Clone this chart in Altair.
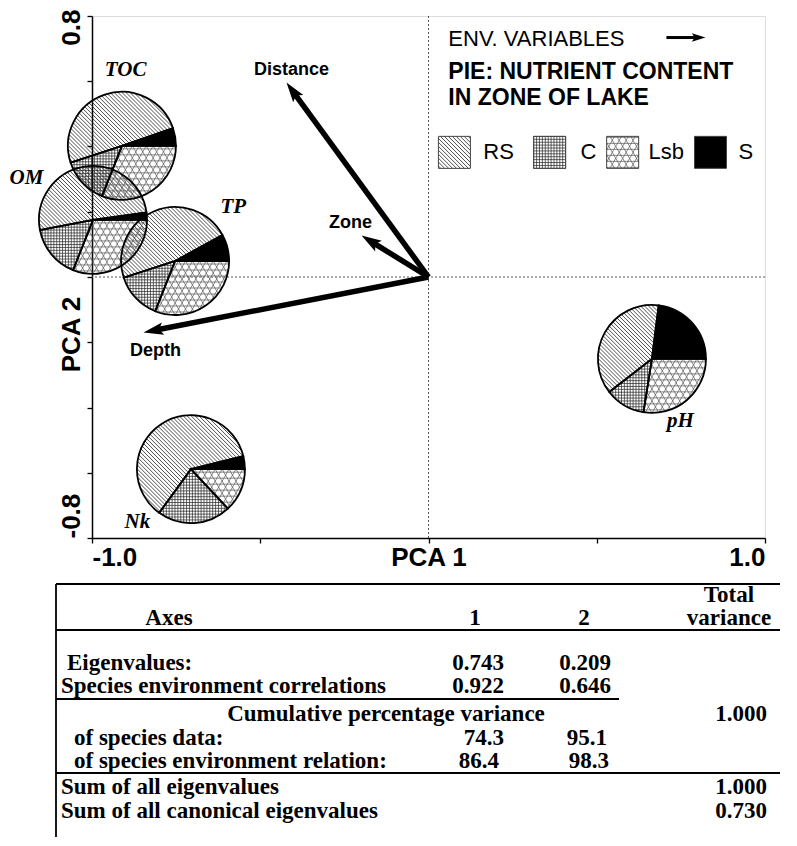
import math
import pandas as pd
import altair as alt

# ---------------- data ----------------
pie_names = ["TOC", "OM", "TP", "Nk", "pH"]
pie_x = [-0.911, -0.997, -0.753, -0.706, 0.664]
pie_y = [0.402, 0.175, 0.049, -0.589, -0.251]
share_S = [5.3, 2.2, 8.0, 3.9, 23.0]
share_RS = [49.7, 50.8, 47.0, 61.1, 37.5]
share_C = [14.0, 16.0, 14.0, 22.0, 12.0]
share_Lsb = [31.0, 31.0, 31.0, 13.0, 27.5]
pie_label_x = [-0.900, -1.195, -0.580, -0.865, 0.749]
pie_label_y = [0.633, 0.302, 0.216, -0.752, -0.440]

env_names = ["Distance", "Zone", "Depth"]
env_x = [-0.422, -0.199, -0.847]
env_y = [0.596, 0.127, -0.170]
env_label_x = [-0.407, -0.232, -0.811]
env_label_y = [0.633, 0.167, -0.228]

categories = ["RS", "C", "Lsb", "S"]
legend_patch_x = [0.077, 0.360, 0.577, 0.838]
legend_text_x = [0.163, 0.452, 0.654, 0.921]
legend_y = 0.382
legend_lines = ["ENV. VARIABLES", "PIE: NUTRIENT CONTENT", "IN ZONE OF LAKE"]
legend_line_y = [0.728, 0.627, 0.550]
legend_line_bold = [False, True, True]
legend_line_x = 0.059
legend_arrow_x = [0.707, 0.823]
legend_arrow_y = 0.734

x_ticks = [-1.0, -0.5, 0.0, 0.5, 1.0]
y_ticks = [-0.8, -0.6, -0.4, -0.2, 0.0, 0.2, 0.4, 0.6, 0.8]

# summary table
eigenvalues = [0.743, 0.209]
species_env_corr = [0.922, 0.646]
cum_species = [74.3, 95.1]
cum_relation = [86.4, 98.3]
total_variance = 1.000
sum_all_eigen = 1.000
sum_canonical_eigen = 0.730

# ---------------- geometry helpers ----------------
W, H = 673, 522
SX, SY = W / 2.0, H / 1.6     # pixels per data unit
R = 54.0                      # pie radius in px

SANS = "Liberation Sans"
SERIF = "Liberation Serif"

PATTERNS = {
    "RS": [(-45, 2.8)],
    "C": [(0, 2.9), (90, 2.9)],
    "Lsb": [(0, 6.0), (60, 6.0), (120, 6.0)],
}


def clip_line(p0, d, planes, radius):
    lo, hi = -1e9, 1e9
    if radius is not None:
        b = p0[0] * d[0] + p0[1] * d[1]
        c = p0[0] ** 2 + p0[1] ** 2 - radius ** 2
        disc = b * b - c
        if disc <= 0:
            return None
        s = math.sqrt(disc)
        lo, hi = -b - s, -b + s
    for nx, ny, k in planes:
        nd = nx * d[0] + ny * d[1]
        npv = nx * p0[0] + ny * p0[1]
        if abs(nd) < 1e-12:
            if npv > k:
                return None
            continue
        t = (k - npv) / nd
        if nd > 0:
            hi = min(hi, t)
        else:
            lo = max(lo, t)
    if hi - lo < 0.4:
        return None
    return lo, hi


def hatch(cx, cy, planes, radius, extent, cat):
    rows = []
    for ang, sp in PATTERNS.get(cat, []):
        a = math.radians(ang)
        d = (math.cos(a), math.sin(a))
        n = (-math.sin(a), math.cos(a))
        k = int(math.ceil(extent / sp)) + 1
        for i in range(-k, k + 1):
            o = i * sp + sp / 2
            p0 = (n[0] * o, n[1] * o)
            r = clip_line(p0, d, planes, radius)
            if r is None:
                continue
            t0, t1 = r
            rows.append(dict(
                x=cx + (p0[0] + t0 * d[0]) / SX, y=cy + (p0[1] + t0 * d[1]) / SY,
                x2=cx + (p0[0] + t1 * d[0]) / SX, y2=cy + (p0[1] + t1 * d[1]) / SY,
                cat=cat))
    return rows


def wedge_planes(a1, a2):
    return [(math.sin(a1), -math.cos(a1), 0.0), (-math.sin(a2), math.cos(a2), 0.0)]


seg_rows, arc_rows = [], []
for i, name in enumerate(pie_names):
    shares = {"S": share_S[i], "RS": share_RS[i], "C": share_C[i], "Lsb": share_Lsb[i]}
    total = sum(shares.values())
    a = 0.0
    for cat in ["S", "RS", "C", "Lsb"]:
        span = 2 * math.pi * shares[cat] / total
        a1, a2 = a, a + span
        a = a2
        arc_rows.append(dict(pie=name, cat=cat, cx=pie_x[i], cy=pie_y[i],
                             t0=math.pi / 2 - a2 + 2 * math.pi,
                             t1=math.pi / 2 - a1 + 2 * math.pi))
        if cat == "S":
            continue
        parts = 1 if span <= math.pi else 2
        for j in range(parts):
            b1 = a1 + span * j / parts
            b2 = a1 + span * (j + 1) / parts
            seg_rows += hatch(pie_x[i], pie_y[i], wedge_planes(b1, b2), R, R, cat)

HS = 16.0
sq_planes = [(1, 0, HS), (-1, 0, HS), (0, 1, HS), (0, -1, HS)]
for cat, lx in zip(categories, legend_patch_x):
    seg_rows += hatch(lx, legend_y, sq_planes, None, HS * 1.5, cat)

seg_df = pd.DataFrame(seg_rows)
arc_df = pd.DataFrame(arc_rows)

HEAD = "M0,-1L0.55,0.75L0,0.4L-0.55,0.75Z"
HEAD_SIZE = 520
HEAD_OFF = math.sqrt(HEAD_SIZE) / 2
env_rows = []
for nm, ex, ey, lx, ly in zip(env_names, env_x, env_y, env_label_x, env_label_y):
    dx, dy = ex * SX, ey * SY
    L = math.hypot(dx, dy)
    ux, uy = dx / L, dy / L
    env_rows.append(dict(name=nm, x0=0.0, y0=0.0,
                         hx=ex - HEAD_OFF * ux / SX, hy=ey - HEAD_OFF * uy / SY,
                         ang=math.degrees(math.atan2(dx, dy)) % 360, lx=lx, ly=ly))
env_df = pd.DataFrame(env_rows)

LEG_HEAD_SIZE = 240
leg_off = math.sqrt(LEG_HEAD_SIZE) / 2
leg_arrow_df = pd.DataFrame([dict(x0=legend_arrow_x[0], y0=legend_arrow_y,
                                  hx=legend_arrow_x[1] - leg_off / SX, hy=legend_arrow_y,
                                  ang=90.0)])

pie_lab_df = pd.DataFrame(dict(name=pie_names, x=pie_label_x, y=pie_label_y))
leg_patch_df = pd.DataFrame(dict(cat=categories, x=legend_patch_x, y=[legend_y] * 4))
leg_text_df = pd.DataFrame(dict(cat=categories, x=legend_text_x, y=[legend_y] * 4))
leg_lines_df = pd.DataFrame(dict(t=legend_lines, y=legend_line_y, x=[legend_line_x] * 3,
                                 bold=legend_line_bold))
zero_df = pd.DataFrame(dict(v=[0.0]))

# ---------------- scales / axes ----------------
xs = alt.Scale(domain=[-1, 1], nice=False, zero=False)
ys = alt.Scale(domain=[-0.8, 0.8], nice=False, zero=False)

x_axis = alt.Axis(
    values=x_ticks, grid=False,
    labelExpr="datum.value <= -0.99 ? '-1.0' : (datum.value >= 0.99 ? '1.0' : (abs(datum.value) < 0.01 ? 'PCA 1' : ''))",
    labelFlush=True, labelOverlap=False, labelFont=SANS, labelFontWeight="bold",
    labelFontSize=26, labelColor="black", labelPadding=1,
    tickSize=5, tickColor="black", tickWidth=1.3, domainColor="black", domainWidth=1.5,
)
y_axis = alt.Axis(
    values=y_ticks, grid=False, title="PCA 2",
    labelExpr="datum.value >= 0.79 ? '0.8' : (datum.value <= -0.79 ? '-0.8' : '')",
    labelAngle=270,
    labelAlign={"condition": {"test": "datum.value > 0", "value": "right"}, "value": "left"},
    labelOffset={"condition": {"test": "datum.value > 0", "value": -7}, "value": 0},
    labelBaseline="bottom", labelOverlap=False, labelFlush=False,
    labelFont=SANS, labelFontWeight="bold", labelFontSize=26, labelColor="black", labelPadding=3,
    tickSize=5, tickColor="black", tickWidth=1.3, domainColor="black", domainWidth=1.5,
    titleAngle=270, titleX=-8, titleY=318, titleBaseline="bottom", titleAlign="center",
    titleFont=SANS, titleFontWeight="bold", titleFontSize=26, titleColor="black",
)


def X(f):
    return alt.X(f"{f}:Q", scale=xs, axis=x_axis, title=None)


def Y(f):
    return alt.Y(f"{f}:Q", scale=ys, axis=y_axis)


fill_scale = alt.Scale(domain=["RS", "C", "Lsb", "S"],
                       range=["transparent", "transparent", "transparent", "black"])

# ---------------- layers ----------------
vline = alt.Chart(zero_df).mark_rule(color="#555", strokeDash=[2, 2], strokeWidth=1).encode(x=X("v"))
hline = alt.Chart(zero_df).mark_rule(color="#555", strokeDash=[2, 2], strokeWidth=1).encode(y=Y("v"))

seg_base = alt.Chart(seg_df).encode(x=X("x"), y=Y("y"), x2="x2", y2="y2")
hatch_rs = seg_base.transform_filter("datum.cat == 'RS'").mark_rule(color="#222", strokeWidth=0.8)
hatch_c = seg_base.transform_filter("datum.cat == 'C'").mark_rule(color="#222", strokeWidth=0.7)
hatch_l = seg_base.transform_filter("datum.cat == 'Lsb'").mark_rule(color="#555", strokeWidth=0.7)

arcs = alt.Chart(arc_df).mark_arc(radius=R, stroke="black", strokeWidth=1.8).encode(
    x=X("cx"), y=Y("cy"),
    theta=alt.Theta("t0:Q", scale=None), theta2=alt.Theta2("t1:Q"),
    fill=alt.Fill("cat:N", scale=fill_scale, legend=None),
)

env_rule = alt.Chart(env_df).mark_rule(color="black", strokeWidth=5.5).encode(
    x=X("x0"), y=Y("y0"), x2="hx", y2="hy")
env_head = alt.Chart(env_df).mark_point(shape=HEAD, size=HEAD_SIZE, filled=True, color="black",
                                        opacity=1).encode(
    x=X("hx"), y=Y("hy"), angle=alt.Angle("ang:Q", scale=None))
env_text = alt.Chart(env_df).mark_text(font=SANS, fontWeight="bold", fontSize=18,
                                       color="black").encode(x=X("lx"), y=Y("ly"), text="name:N")

pie_text = alt.Chart(pie_lab_df).mark_text(font=SERIF, fontWeight="bold", fontStyle="italic",
                                           fontSize=21, color="black").encode(
    x=X("x"), y=Y("y"), text="name:N")

leg_patch = alt.Chart(leg_patch_df).mark_point(shape="square", size=1024, filled=True,
                                               stroke="#444", strokeWidth=1, opacity=1).encode(
    x=X("x"), y=Y("y"), fill=alt.Fill("cat:N", scale=fill_scale, legend=None))
leg_text = alt.Chart(leg_text_df).mark_text(font=SANS, fontSize=22, align="left",
                                            color="black").encode(x=X("x"), y=Y("y"), text="cat:N")
leg_l1 = alt.Chart(leg_lines_df).transform_filter("!datum.bold").mark_text(
    font=SANS, fontSize=22, align="left", color="black").encode(x=X("x"), y=Y("y"), text="t:N")
leg_l2 = alt.Chart(leg_lines_df).transform_filter("datum.bold").mark_text(
    font=SANS, fontSize=23, fontWeight="bold", align="left", color="black").encode(
    x=X("x"), y=Y("y"), text="t:N")
leg_arrow = alt.Chart(leg_arrow_df).mark_rule(color="black", strokeWidth=3).encode(
    x=X("x0"), y=Y("y0"), x2="hx", y2="hy")
leg_head = alt.Chart(leg_arrow_df).mark_point(shape=HEAD, size=LEG_HEAD_SIZE, filled=True,
                                              color="black", opacity=1).encode(
    x=X("hx"), y=Y("hy"), angle=alt.Angle("ang:Q", scale=None))

scatter = alt.layer(
    vline, hline, hatch_rs, hatch_c, hatch_l, arcs,
    env_rule, env_head, env_text, pie_text,
    leg_patch, leg_text, leg_l1, leg_l2, leg_arrow, leg_head,
).properties(width=W, height=H)

# ---------------- table ----------------
TW, TH = 688, 253
C1, C2, CT = 448, 555, 711
t_rows = [
    ("Total", 673, 11, "center"), ("variance", 673, 34, "center"),
    ("Axes", 113, 34, "center"), ("1", 419, 34, "center"), ("2", 528, 34, "center"),
    ("Eigenvalues:", 11, 79, "left"),
    (f"{eigenvalues[0]:.3f}", C1, 79, "right"), (f"{eigenvalues[1]:.3f}", C2, 79, "right"),
    ("Species environment correlations", 5, 102, "left"),
    (f"{species_env_corr[0]:.3f}", C1, 102, "right"), (f"{species_env_corr[1]:.3f}", C2, 102, "right"),
    ("Cumulative percentage variance", 330, 130, "center"),
    (f"{total_variance:.3f}", CT, 130, "right"),
    ("of species data:", 18, 154, "left"),
    (f"{cum_species[0]:.1f}", C1, 154, "right"), (f"{cum_species[1]:.1f}", C2 - 4, 154, "right"),
    ("of species  environment relation:", 18, 177, "left"),
    (f"{cum_relation[0]:.1f}", C1 - 5, 177, "right"), (f"{cum_relation[1]:.1f}", C2 - 2, 177, "right"),
    ("Sum of all eigenvalues", 5, 203, "left"), (f"{sum_all_eigen:.3f}", CT, 203, "right"),
    ("Sum of all canonical eigenvalues", 5, 227, "left"), (f"{sum_canonical_eigen:.3f}", CT, 227, "right"),
]
tt_df = pd.DataFrame(t_rows, columns=["t", "u", "v", "al"])
tl_df = pd.DataFrame(dict(u=[0, 0, 0, 0, 0], u2=[724, 724, 563, 724, 0],
                          v=[0, 46, 115, 189, 0], v2=[0, 46, 115, 189, TH]))

tx = alt.Scale(domain=[36, 724], nice=False, zero=False)
ty = alt.Scale(domain=[0, TH], nice=False, zero=False, reverse=True)

t_lines = alt.Chart(tl_df).mark_rule(color="black", strokeWidth=1.8).encode(
    x=alt.X("u:Q", scale=tx, axis=None), x2="u2", y=alt.Y("v:Q", scale=ty, axis=None), y2="v2")
t_layers = [t_lines]
for al in ["left", "center", "right"]:
    t_layers.append(
        alt.Chart(tt_df).transform_filter(f"datum.al == '{al}'").mark_text(
            font=SERIF, fontWeight="bold", fontSize=23, align=al, baseline="middle", color="black"
        ).encode(x=alt.X("u:Q", scale=tx, axis=None), y=alt.Y("v:Q", scale=ty, axis=None), text="t:N")
    )
table = alt.layer(*t_layers).properties(width=TW, height=TH,
                                        view=alt.ViewBackground(stroke="transparent"))

chart = alt.vconcat(scatter, table, spacing=46, bounds="flush", padding=0).resolve_scale(
    x="independent", y="independent"
).configure_view(stroke="black", strokeWidth=1.5).configure(background="white")

chart.save("out.html", embed_options={"renderer": "svg", "actions": False})
